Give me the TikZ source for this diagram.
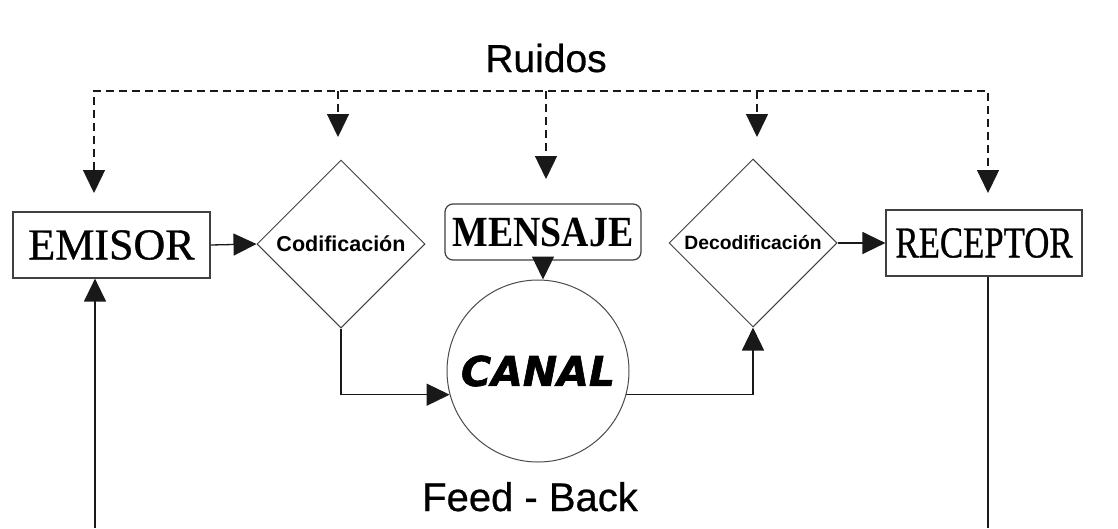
\documentclass[tikz,border=0pt]{standalone}
\usepackage{fontspec}
\usepackage{graphicx}
\setmainfont{Liberation Serif}
\newfontfamily\serifh[FakeBold=0.8]{Liberation Serif}
\newfontfamily\arialf{Liberation Sans}
\newfontfamily\arialh[FakeBold=0.6]{Liberation Sans}
\newfontfamily\canalf[FakeBold=1.5]{DejaVu Sans}
\usetikzlibrary{shapes.geometric,arrows.meta}
\begin{document}
\begin{tikzpicture}[x=1pt,y=-1pt,
  tipx/.tip={Triangle[length=23pt,width=22pt]},
  box/.style={draw=black!75, line width=1.2pt, inner sep=0pt, minimum width=197pt, minimum height=66pt},
  dia/.style={diamond, draw=black!75, line width=1pt, inner sep=0pt, aspect=1, minimum width=168pt, minimum height=168pt},
  conn/.style={draw=black!90, line width=1.3pt, -{tipx}},
  plain/.style={draw=black!90, line width=1.3pt},
  noise/.style={draw=black!90, line width=1.4pt, dash pattern=on 8pt off 5pt, -{tipx}},
  noiseline/.style={draw=black!90, line width=1.4pt, dash pattern=on 8pt off 5pt, {tipx}-{tipx}}
]
\fill[white] (0,0) rectangle (1118,528);
\useasboundingbox (0,0) rectangle (1118,528);

% nodes
\node[box] (emisor) at (111.5,245) {\serifh\fontsize{44}{48}\selectfont EMISOR};
\node[dia] (codif) at (341,244) {\arialf\bfseries\fontsize{21.5}{24}\selectfont Codificación};
\node[draw=black!75, line width=1.2pt, rounded corners=8pt, minimum width=196pt, minimum height=56pt, inner sep=0pt] (mensaje) at (543,232) {\bfseries\fontsize{43}{46}\selectfont\scalebox{0.88}[1]{MENSAJE}};
\node[circle, draw=black!70, line width=1pt, minimum size=182pt, inner sep=0pt] (canal) at (538,371) {\canalf\bfseries\itshape\fontsize{41}{44}\selectfont CANAL};
\node[dia] (decod) at (753,243) {\arialf\bfseries\fontsize{19.3}{22}\selectfont Decodificación};
\node[box, minimum width=196pt] (receptor) at (984,243) {\serifh\fontsize{44}{48}\selectfont\scalebox{0.79}[1]{RECEPTOR}};
\node[anchor=base, inner sep=0pt] (ruidos) at (546,72) {\arialh\fontsize{39}{42}\selectfont Ruidos};
\node[anchor=base, inner sep=0pt] (feedback) at (530,511) {\arialh\fontsize{40}{44}\selectfont Feed - Back};

% coordinates
\coordinate (tl) at (94,91);
\coordinate (tr) at (988,91);
\coordinate (ne) at (94,193);
\coordinate (nc) at (338,137);
\coordinate (nm) at (546,179);
\coordinate (nd) at (757,137);
\coordinate (nr) at (988,193);
\coordinate (bl) at (95,528);
\coordinate (br) at (988,528);

% noise connectors
\draw[noiseline] (ne) -- (tl) -- (tr) -- (nr);
\draw[noise] (nc |- tl) -- (nc);
\draw[noise] (nm |- tl) -- (nm);
\draw[noise] (nd |- tl) -- (nd);

% main flow
\draw[conn] (emisor.east) -- (codif.west);
\draw[conn] (mensaje.south) -- (mensaje.south |- canal.north);
\draw[conn] (codif.south) |- (canal.195);
\draw[conn] (canal.345) -| (decod.south);
\draw[conn] (decod.east) -- (receptor.west);

% feedback
\draw[plain] (br |- receptor.south) -- (br);
\draw[conn] (bl) -- (bl |- emisor.south);
\end{tikzpicture}
\end{document}
